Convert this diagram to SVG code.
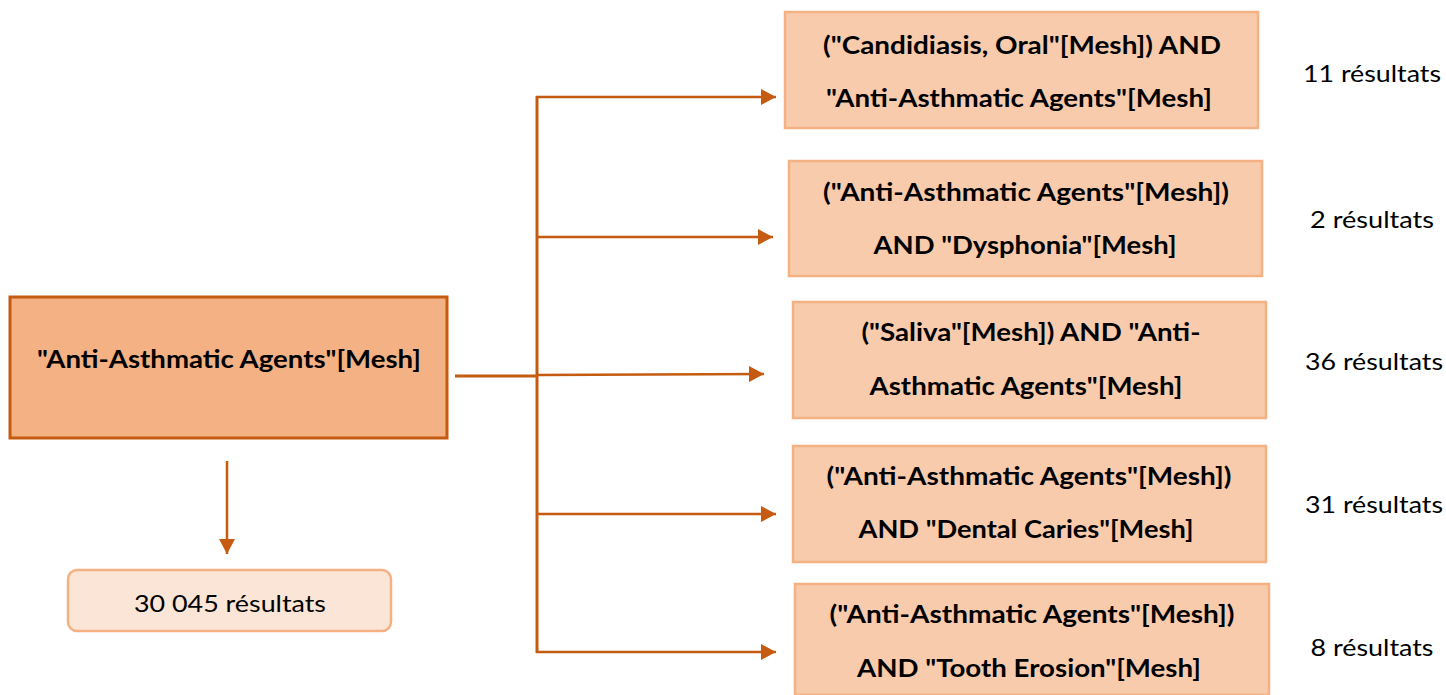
<svg xmlns="http://www.w3.org/2000/svg" width="1446" height="695" viewBox="0 0 1446 695">
<style>
.main{fill:#F4B183;stroke:#C55A11;stroke-width:3}
.q{fill:#F8CBAD;stroke:#F4B183;stroke-width:2.5}
.res{fill:#FBE5D6;stroke:#F4B183;stroke-width:2.5}
.b{font-family:Lato,"Liberation Sans",sans-serif;font-weight:bold;font-size:25px;fill:#000;text-anchor:middle}
.r{font-family:Lato,"Liberation Sans",sans-serif;font-size:24px;fill:#000;text-anchor:middle}
.c{fill:none;stroke:#C55A11;stroke-width:2.5}
</style>
<defs>
<marker id="ah" markerUnits="userSpaceOnUse" markerWidth="16" markerHeight="16" refX="15" refY="8" orient="auto">
<path d="M0,0 L15,8 L0,16 Z" fill="#C55A11"/>
</marker>
</defs>
<g id="connectors">
<line class="c" x1="227" y1="461" x2="227" y2="554" marker-end="url(#ah)"/>
<line class="c" x1="455" y1="376" x2="537" y2="376" style="stroke-width:3"/>
<line class="c" x1="537" y1="96" x2="537" y2="653" style="stroke-width:3"/>
<line class="c" x1="536" y1="97" x2="776" y2="97" marker-end="url(#ah)"/>
<line class="c" x1="536" y1="237" x2="773" y2="237" marker-end="url(#ah)"/>
<line class="c" x1="537" y1="375" x2="764" y2="374" marker-end="url(#ah)"/>
<line class="c" x1="536" y1="514" x2="776" y2="514" marker-end="url(#ah)"/>
<line class="c" x1="536" y1="652" x2="776" y2="652" marker-end="url(#ah)"/>
</g>
<g id="main">
<rect class="main" x="10" y="297" width="437" height="141"/>
<text class="b" x="229" y="368" textLength="384" lengthAdjust="spacingAndGlyphs">"Anti-Asthmatic Agents"[Mesh]</text>
</g>
<g id="total">
<rect class="res" x="68" y="570" width="323" height="61" rx="9"/>
<text class="r" x="230" y="612" textLength="192" lengthAdjust="spacingAndGlyphs">30 045 résultats</text>
</g>
<g id="q1">
<rect class="q" x="785" y="12" width="473" height="116"/>
<text class="b" x="1022" y="54" textLength="398" lengthAdjust="spacingAndGlyphs">("Candidiasis, Oral"[Mesh]) AND</text>
<text class="b" x="1019" y="107" textLength="386" lengthAdjust="spacingAndGlyphs">"Anti-Asthmatic Agents"[Mesh]</text>
</g>
<g id="q2">
<rect class="q" x="789" y="161" width="473" height="115"/>
<text class="b" x="1026" y="201" textLength="406" lengthAdjust="spacingAndGlyphs">("Anti-Asthmatic Agents"[Mesh])</text>
<text class="b" x="1025" y="254" textLength="303" lengthAdjust="spacingAndGlyphs">AND "Dysphonia"[Mesh]</text>
</g>
<g id="q3">
<rect class="q" x="793" y="302" width="473" height="116"/>
<text class="b" x="1031" y="341" textLength="339" lengthAdjust="spacingAndGlyphs">("Saliva"[Mesh]) AND "Anti-</text>
<text class="b" x="1026" y="395" textLength="313" lengthAdjust="spacingAndGlyphs">Asthmatic Agents"[Mesh]</text>
</g>
<g id="q4">
<rect class="q" x="793" y="446" width="473" height="116"/>
<text class="b" x="1029" y="485" textLength="405" lengthAdjust="spacingAndGlyphs">("Anti-Asthmatic Agents"[Mesh])</text>
<text class="b" x="1026" y="538" textLength="335" lengthAdjust="spacingAndGlyphs">AND "Dental Caries"[Mesh]</text>
</g>
<g id="q5">
<rect class="q" x="795" y="584" width="474" height="111"/>
<text class="b" x="1032" y="623" textLength="405" lengthAdjust="spacingAndGlyphs">("Anti-Asthmatic Agents"[Mesh])</text>
<text class="b" x="1029" y="677" textLength="344" lengthAdjust="spacingAndGlyphs">AND "Tooth Erosion"[Mesh]</text>
</g>
<g id="labels">
<text class="r" x="1372" y="82" textLength="138" lengthAdjust="spacingAndGlyphs">11 résultats</text>
<text class="r" x="1372" y="228" textLength="124" lengthAdjust="spacingAndGlyphs">2 résultats</text>
<text class="r" x="1374" y="370" textLength="138" lengthAdjust="spacingAndGlyphs">36 résultats</text>
<text class="r" x="1374" y="513" textLength="138" lengthAdjust="spacingAndGlyphs">31 résultats</text>
<text class="r" x="1372" y="656" textLength="123" lengthAdjust="spacingAndGlyphs">8 résultats</text>
</g>
</svg>
